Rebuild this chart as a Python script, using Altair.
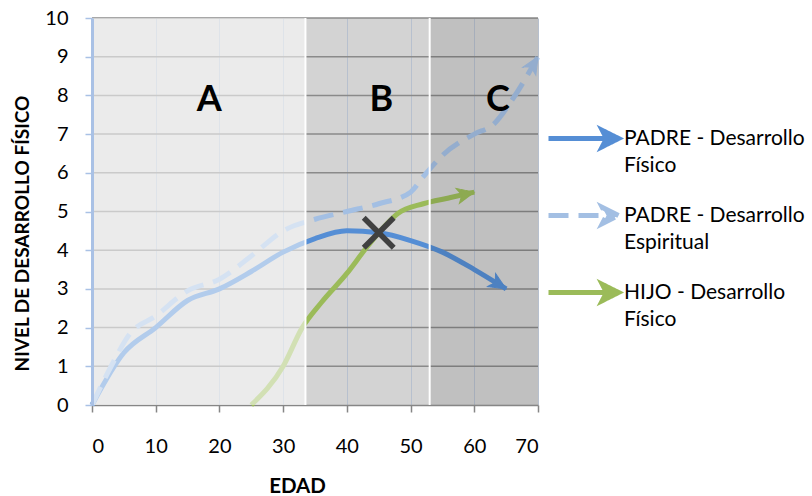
import math
import altair as alt
import pandas as pd

# ---------------- data ----------------
series = ["PADRE - Desarrollo|Físico", "PADRE - Desarrollo|Espiritual", "HIJO - Desarrollo|Físico"]

padre_fis_x = [0, 5, 10, 15, 20, 25, 30, 35, 40, 45, 50, 55, 60, 65]
padre_fis_y = [0, 1.35, 2.0, 2.7, 3.0, 3.45, 3.95, 4.3, 4.5, 4.45, 4.25, 3.95, 3.5, 3.0]

padre_esp_x = [0, 3, 6, 10, 15, 20, 25, 30, 35, 40, 45, 50, 52, 55, 60, 63, 66, 70]
padre_esp_y = [0, 1.0, 1.85, 2.3, 2.95, 3.25, 3.85, 4.5, 4.8, 5.0, 5.2, 5.5, 5.9, 6.45, 7.0, 7.25, 7.9, 9.0]

hijo_x = [25, 30, 33, 36, 40, 43, 45, 48, 52, 56, 60]
hijo_y = [0, 1.0, 2.0, 2.65, 3.4, 4.05, 4.45, 4.95, 5.2, 5.35, 5.5]

region_labels = ["A", "B", "C"]
region_start = [0, 33.5, 53]
region_end = [33.5, 53, 70]
label_x = [18.4, 45.4, 63.7]
label_y = [7.88, 7.88, 7.88]

cross_x = [45]
cross_y = [4.45]

x_ticks = [0, 10, 20, 30, 40, 50, 60, 70]
y_ticks = [0, 1, 2, 3, 4, 5, 6, 7, 8, 9, 10]
grid_y = [1, 2, 3, 4, 5, 6, 7, 8, 9, 10]

colors = ["#558ED5", "#A3BFE3", "#9BBB59"]
dashes = [[1, 0], [20, 10], [1, 0]]

# ---------------- layout ----------------
W, H = 446, 387
FONT = "Lato"

rows = []
for name, xs, ys in [(series[0], padre_fis_x, padre_fis_y),
                     (series[1], padre_esp_x, padre_esp_y),
                     (series[2], hijo_x, hijo_y)]:
    for i, (a, b) in enumerate(zip(xs, ys)):
        rows.append({"edad": a, "nivel": b, "serie": name, "orden": i})
lines_df = pd.DataFrame(rows)

px_x = W / 70.0
px_y = H / 10.0
heads = []
for name, xs, ys in [(series[0], padre_fis_x, padre_fis_y),
                     (series[1], padre_esp_x, padre_esp_y),
                     (series[2], hijo_x, hijo_y)]:
    dx = (xs[-1] - xs[-2]) * px_x
    dy = -(ys[-1] - ys[-2]) * px_y
    ang = math.degrees(math.atan2(dy, dx)) % 360
    heads.append({"edad": xs[-1], "nivel": ys[-1], "serie": name, "ang": ang})
heads_df = pd.DataFrame(heads)

regions_df = pd.DataFrame({"edad": region_start, "edad2": region_end, "reg": region_labels})
labels_df = pd.DataFrame({"edad": label_x, "nivel": label_y, "txt": region_labels})
cross_df = pd.DataFrame({"edad": cross_x, "nivel": cross_y})
grid_df = pd.DataFrame({"nivel": grid_y})
sep_df = pd.DataFrame({"edad": region_start[1:]})

xscale = alt.Scale(domain=[0, 70], nice=False)
yscale = alt.Scale(domain=[0, 10], nice=False)

xaxis = alt.Axis(values=x_ticks, title="EDAD", grid=True, gridColor="#B7C0CE", gridWidth=1,
                 domainColor="#868686", domainWidth=1.5, tickColor="#868686", tickSize=7, tickWidth=1.5,
                 labelFont=FONT, labelFontSize=20, labelColor="#000000", labelPadding=24,
                 titleFont=FONT, titleFontSize=20.5, titleFontWeight="bold", titleColor="#000000",
                 titlePadding=20, titleX=205)
yaxis = alt.Axis(values=y_ticks, title="NIVEL DE DESARROLLO FÍSICO", grid=False, zindex=1,
                 domainColor="#A9C1E5", domainWidth=3, tickColor="#A9C1E5", tickSize=7, tickWidth=1.5,
                 labelFont=FONT, labelFontSize=20, labelColor="#000000", labelPadding=17,
                 titleFont=FONT, titleFontSize=19, titleFontWeight="bold", titleColor="#000000",
                 titlePadding=12, titleY=215)

X = lambda f="edad": alt.X(f"{f}:Q", scale=xscale, axis=xaxis)
Y = lambda f="nivel": alt.Y(f"{f}:Q", scale=yscale, axis=yaxis)

arrow_legend_path = "M-1,0L0.6,0M1,0L0.54,-0.23L0.66,0L0.54,0.23Z"
legend = alt.Legend(
    orient="none", legendX=454, legendY=83, padding=0, title=None,
    symbolType=arrow_legend_path, symbolSize=4900, symbolStrokeWidth=5,
    labelFont=FONT, labelFontSize=21, labelColor="#000000", labelLimit=400,
    labelExpr="split(datum.label, '|')", labelOffset=3, rowPadding=2,
    labelBaseline="middle",
)

color_scale = alt.Scale(domain=series, range=colors)

grid = alt.Chart(grid_df).mark_rule(color="#8A8A8A", strokeWidth=1.5).encode(y=Y())

solid_lines = alt.Chart(lines_df[lines_df.serie != series[1]]).mark_line(
    strokeWidth=5, interpolate="monotone", strokeCap="butt").encode(
    x=X(), y=Y(),
    color=alt.Color("serie:N", scale=color_scale, legend=legend),
    order="orden:Q",
)
dashed_line = alt.Chart(lines_df[lines_df.serie == series[1]]).mark_line(
    strokeWidth=5, interpolate="monotone", strokeCap="butt", strokeDash=dashes[1]).encode(
    x=X(), y=Y(),
    color=alt.Color("serie:N", scale=color_scale, legend=legend),
    order="orden:Q",
)

head_path = "M0,0L-2,-0.9L-1.5,0L-2,0.9Z"
arrowheads = alt.Chart(heads_df).mark_point(shape=head_path, filled=True, size=289, opacity=1,
                                            strokeWidth=1).encode(
    x=X(), y=Y(),
    fill=alt.Fill("serie:N", scale=alt.Scale(domain=series, range=colors), legend=legend),
    stroke=alt.Stroke("serie:N", scale=alt.Scale(domain=series, range=colors), legend=legend),
    strokeDash=alt.StrokeDash("serie:N", scale=alt.Scale(domain=series, range=dashes), legend=legend),
    angle=alt.Angle("ang:Q", scale=None),
)

overlay_a = alt.Chart(regions_df[regions_df.reg == "A"]).mark_rect(color="#FFFFFF", opacity=0.55).encode(
    x=X(), x2="edad2:Q", y=alt.value(0), y2=alt.value(H))
overlay_c = alt.Chart(regions_df[regions_df.reg == "C"]).mark_rect(color="#000000", opacity=0.09).encode(
    x=X(), x2="edad2:Q", y=alt.value(0), y2=alt.value(H))

separators = alt.Chart(sep_df).mark_rule(color="#FFFFFF", strokeWidth=2).encode(x=X())

cross = alt.Chart(cross_df).mark_point(shape="M-1,-1L1,1M-1,1L1,-1", filled=False, size=900,
                                        strokeWidth=5.5, color="#404040", opacity=1,
                                        strokeCap="butt").encode(x=X(), y=Y())

texts = alt.Chart(labels_df).mark_text(font=FONT, fontSize=36, fontWeight="bold", color="#000000",
                                       baseline="middle", align="center").encode(
    x=X(), y=Y(), text="txt:N")

chart = alt.layer(grid, solid_lines, dashed_line, arrowheads, overlay_a, overlay_c, separators,
                  cross, texts).properties(
    width=W, height=H,
    padding={"left": 92, "top": 18, "right": 274, "bottom": 91},
    autosize=alt.AutoSizeParams(type="none"),
    background="#FFFFFF",
).configure(
    style={"guide-label": {"lineHeight": 27}},
).configure_view(fill="#D3D3D3", strokeWidth=0)

chart.save("out.html", embed_options={"renderer": "svg", "actions": False})
